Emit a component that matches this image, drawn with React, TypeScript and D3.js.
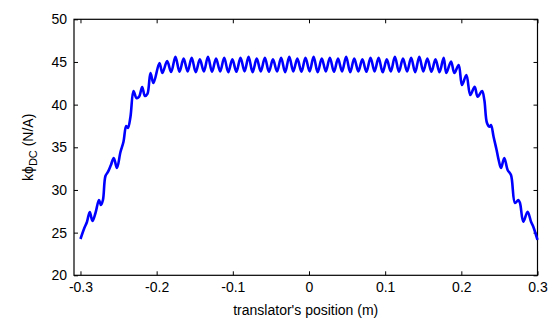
import React, { useRef, useEffect } from "react";
import * as d3 from "d3";

// rising edge, left end of the translator stroke
const riseX = [
  -0.3, -0.2954, -0.2915, -0.2878, -0.2843, -0.2803, -0.2757, -0.2731, -0.2705, -0.2672,
  -0.2639, -0.26, -0.2563, -0.2521, -0.2475, -0.2436, -0.24, -0.2377, -0.2344, -0.2304,
  -0.2265, -0.2232, -0.219, -0.2154, -0.2121, -0.2081, -0.2042, -0.1963, -0.1924, -0.1862,
  -0.181,
];
const riseK = [
  24.25, 25.43, 26.25, 27.42, 26.36, 27.3, 28.82, 28.24, 28.82, 31.64,
  32.11, 32.93, 33.75, 32.58, 34.45, 35.62, 37.5, 37.26, 38.55, 41.6,
  40.78, 40.9, 42.07, 41.01, 41.25, 43.71, 42.54, 44.88, 43.71, 45.11,
  43.82,
];

// flat part: ripple peaks and troughs
const plateauX = [
  -0.1753, -0.17, -0.1646, -0.1593, -0.154, -0.1487, -0.1433, -0.138, -0.1326, -0.1273,
  -0.122, -0.1166, -0.1113, -0.106, -0.1006, -0.0953, -0.0899, -0.0846, -0.0793, -0.074,
  -0.0686, -0.0633, -0.0579, -0.0526, -0.0473, -0.0419, -0.0366, -0.0313, -0.0259, -0.0206,
  -0.0153, -0.0099, -0.0046, 0.0008, 0.0061, 0.0114, 0.0168, 0.0221, 0.0274, 0.0328,
  0.0381, 0.0434, 0.0488, 0.0541, 0.0594, 0.0648, 0.0701, 0.0754, 0.0808, 0.0861,
  0.0914, 0.0968, 0.1021, 0.1074, 0.1128, 0.1181, 0.1234, 0.1288, 0.1341, 0.1394,
  0.1448, 0.1501, 0.1554, 0.1608, 0.1661, 0.1714, 0.1768,
];
const plateauK = [
  45.6, 43.85, 45.4, 43.9, 45.5, 43.8, 45.3, 43.9, 45.6, 43.85,
  45.4, 43.9, 45.5, 43.8, 45.3, 43.85, 45.5, 43.9, 45.6, 43.8,
  45.4, 43.9, 45.5, 43.85, 45.3, 43.9, 45.5, 43.8, 45.6, 43.9,
  45.4, 43.85, 45.5, 43.9, 45.6, 43.8, 45.4, 43.9, 45.5, 43.85,
  45.4, 43.9, 45.6, 43.8, 45.4, 43.9, 45.3, 43.85, 45.5, 43.9,
  45.5, 43.8, 45.3, 43.9, 45.6, 43.85, 45.4, 43.9, 45.5, 43.8,
  45.6, 43.9, 45.4, 43.85, 45.3, 43.8, 45.5,
];

// falling edge, right end
const fallX = [
  0.1803, 0.1865, 0.1908, 0.1965, 0.2009, 0.2066, 0.2118, 0.2175, 0.2214, 0.2272,
  0.2302, 0.2337, 0.2371, 0.239, 0.2424, 0.2463, 0.249, 0.2521, 0.2564, 0.2608,
  0.2652, 0.2705, 0.2748, 0.277, 0.2814, 0.287, 0.2915, 0.2945, 0.3,
];
const fallK = [
  43.71, 45.06, 43.71, 44.65, 42.3, 43.47, 41.13, 42.1, 40.93, 41.6,
  40.54, 37.85, 37.41, 37.61, 36.21, 34.68, 33.51, 32.57, 33.75, 32.34,
  31.75, 28.47, 28.82, 28.47, 26.28, 27.45, 26.28, 25.7, 24.14,
];

const xTicks = [-0.3, -0.2, -0.1, 0, 0.1, 0.2, 0.3];
const yTicks = [20, 25, 30, 35, 40, 45, 50];

const Chart = () => {
  const svgRef = useRef<SVGSVGElement>(null);

  useEffect(() => {
    const svg = d3.select(svgRef.current);
    svg.selectAll("*").remove();

    const width = 555;
    const height = 320;
    const margin = { top: 19.3, right: 17.5, bottom: 44.7, left: 74 };
    const font = "'Liberation Sans', Arial, sans-serif";

    const x = d3
      .scaleLinear()
      .domain([-0.3085, 0.3])
      .range([margin.left, width - margin.right]);

    const y = d3
      .scaleLinear()
      .domain([20, 50])
      .range([height - margin.bottom, margin.top]);

    const data = [
      ...riseX.map((v, i) => ({ x: v, k: riseK[i] })),
      ...plateauX.map((v, i) => ({ x: v, k: plateauK[i] })),
      ...fallX.map((v, i) => ({ x: v, k: fallK[i] })),
    ];

    // axes, MATLAB style: ticks inside, on all four sides
    // plain hyphen for negatives, like MATLAB
    const fmt = (d: any) => (d === 0 ? "0" : d3.format(".1f")(d).replace("\u2212", "-"));

    const bottom = svg
      .append("g")
      .attr("transform", `translate(0,${height - margin.bottom})`)
      .call(d3.axisBottom(x).tickValues(xTicks).tickFormat(fmt).tickSizeInner(-4).tickSizeOuter(0).tickPadding(7));
    const top = svg
      .append("g")
      .attr("transform", `translate(0,${margin.top})`)
      .call(d3.axisTop(x).tickValues(xTicks).tickFormat(() => "").tickSizeInner(-4).tickSizeOuter(0));
    const left = svg
      .append("g")
      .attr("transform", `translate(${margin.left},0)`)
      .call(d3.axisLeft(y).tickValues(yTicks).tickSizeInner(-4).tickSizeOuter(0).tickPadding(7));
    const right = svg
      .append("g")
      .attr("transform", `translate(${width - margin.right},0)`)
      .call(d3.axisRight(y).tickValues(yTicks).tickFormat(() => "").tickSizeInner(-4).tickSizeOuter(0));

    [bottom, top, left, right].forEach((g) => {
      g.select(".domain").remove();
      g.selectAll("line").attr("stroke", "#000");
      g.selectAll("text").attr("fill", "#000").style("font-size", "14px").style("font-family", font);
    });

    // box
    svg
      .append("rect")
      .attr("x", margin.left)
      .attr("y", margin.top)
      .attr("width", width - margin.right - margin.left)
      .attr("height", height - margin.bottom - margin.top)
      .attr("fill", "none")
      .attr("stroke", "#000")
      .attr("stroke-width", 1.2);

    const line = d3
      .line<{ x: number; k: number }>()
      .x((d) => x(d.x))
      .y((d) => y(d.k))
      .curve(d3.curveCatmullRom.alpha(0.5));

    svg
      .append("path")
      .datum(data)
      .attr("fill", "none")
      .attr("stroke", "#0000ff")
      .attr("stroke-width", 2.6)
      .attr("stroke-linejoin", "round")
      .attr("d", line);

    // labels
    svg
      .append("text")
      .attr("x", (margin.left + width - margin.right) / 2)
      .attr("y", 315)
      .style("text-anchor", "middle")
      .style("font-size", "14px")
      .style("font-family", font)
      .text("translator's position (m)");

    const yl = svg
      .append("text")
      .attr("transform", `translate(33,${(margin.top + height - margin.bottom) / 2}) rotate(-90)`)
      .style("text-anchor", "middle")
      .style("font-size", "14px")
      .style("font-family", font);
    yl.append("tspan").text("k");
    yl.append("tspan").text("\u03D5");
    yl.append("tspan").attr("dy", 4).style("font-size", "11px").text("DC");
    yl.append("tspan").attr("dy", -4).text(" (N/A)");
  }, []);

  return (
    <svg
      ref={svgRef}
      width={555}
      height={320}
      style={{ position: "absolute", left: 0, top: 0, background: "#fff" }}
    ></svg>
  );
};

export default function App() {
  return <Chart />;
}
